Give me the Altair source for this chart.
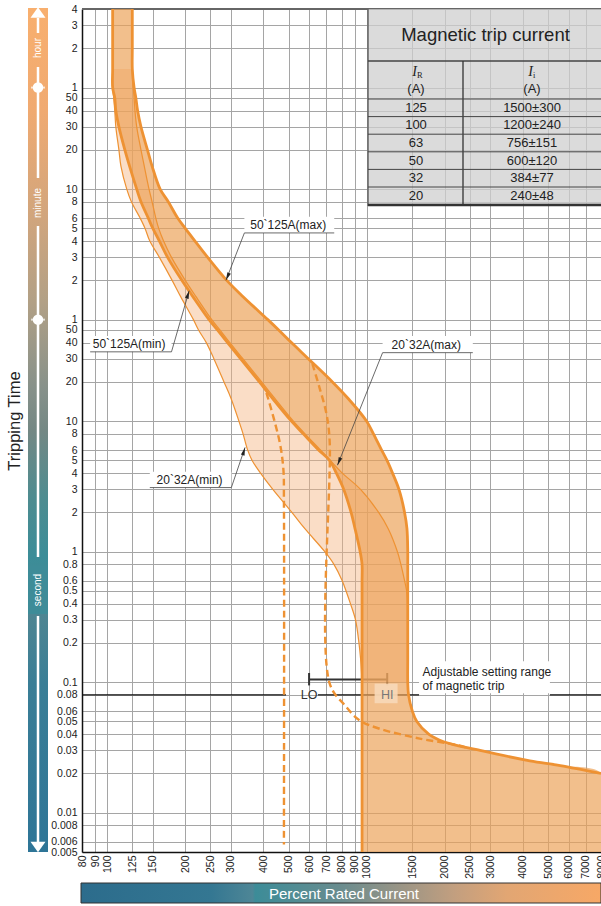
import altair as alt
import pandas as pd

# ---------------- data ----------------
# Trip band for 50~125 A breakers: time levels (s) and band edges (% of rated current)
BAND_50_125_SEC = [14400, 7200, 5000, 3600, 3000, 2400, 1800, 1200, 900, 600,
                   480, 360, 300, 240, 180, 120, 90, 60, 50, 40,
                   30, 20, 15, 10, 8, 6, 5, 4, 3, 2,
                   1.5, 1, 0.8, 0.6, 0.5, 0.4, 0.3, 0.2, 0.15, 0.1,
                   0.08, 0.06, 0.05, 0.04, 0.035, 0.03, 0.025, 0.023, 0.02, 0.01,
                   0.005]
BAND_50_125_MIN = [105, 105, 105, 105, 107, 108, 111, 117, 122, 130,
                   135, 144, 150, 159, 171, 194, 214, 247, 266, 291,
                   327, 386, 433, 513, 570, 654, 720, 764, 816, 871,
                   902, 944, 960, 960, 960, 960, 960, 960, 960, 960,
                   960, 960, 960, 960, 960, 960, 960, 960, 960, 960,
                   960]
BAND_50_125_MAX = [125, 125, 125, 127, 129, 131, 135, 143, 149, 160,
                   172, 187, 200, 218, 244, 289, 334, 416, 458, 513,
                   597, 738, 847, 1000, 1062, 1142, 1198, 1258, 1332, 1400,
                   1430, 1440, 1440, 1440, 1440, 1440, 1440, 1440, 1440, 1440,
                   1450, 1500, 1561, 1734, 1980, 2736, 4256, 5570, 8000, 8000,
                   8000]

# Trip band for 20~32 A breakers
BAND_20_32_SEC = [5000, 3600, 3000, 2400, 1800, 1200, 900, 600, 480, 360,
                  300, 240, 180, 120, 90, 60, 50, 40, 30, 20,
                  15, 10, 8, 6, 5, 4, 3, 2, 1.5, 1,
                  0.8, 0.6, 0.5, 0.4, 0.3, 0.2, 0.15, 0.1]
BAND_20_32_MIN = [105, 105, 106, 107, 108, 111, 113, 119, 124, 134,
                  140, 146, 159, 178, 192, 215, 225, 241, 258, 282,
                  300, 322, 334, 348, 362, 390, 435, 515, 578, 690,
                  748, 805, 833, 866, 906, 934, 948, 960]
BAND_20_32_MAX = [125, 126, 127, 128, 130, 135, 139, 145, 149, 154,
                  158, 165, 177, 200, 220, 253, 272, 297, 334, 394,
                  442, 522, 579, 665, 724, 806, 947, 1112, 1211, 1314,
                  1355, 1400, 1426, 1440, 1440, 1440, 1440, 1440]

# Magnetic trip boundaries for the LO setting (dashed)
LO_DASH_PCT = [411, 441, 465, 478, 480, 480]
LO_DASH_SEC = [16.5, 10.1, 6.5, 4.2, 2.5, 0.0057]
HI_DASH_PCT = [618, 658, 700, 720, 720, 822, 939, 1122, 1601, 2224, 2496]
HI_DASH_SEC = [27.5, 18.1, 11.4, 7.1, 0.098, 0.067, 0.051, 0.044, 0.037, 0.033, 0.031]

X_TICKS = [80, 90, 100, 125, 150, 200, 250, 300, 400, 500, 600, 700, 800, 900,
           1000, 1500, 2000, 2500, 3000, 4000, 5000, 6000, 7000, 8000]
# hours (4..1), minutes (50..1), seconds (50..0.005) -- all in seconds
Y_TICKS = [14400, 10800, 7200, 3600, 3000, 2400, 1800, 1200, 600, 480, 360, 300,
           240, 180, 120, 60, 50, 40, 30, 20, 10, 8, 6, 5, 4, 3, 2, 1, 0.8, 0.6,
           0.5, 0.4, 0.3, 0.2, 0.1, 0.08, 0.06, 0.05, 0.04, 0.03, 0.02, 0.01,
           0.008, 0.006, 0.005]

# Callouts
CALLOUT_TEXT = ["50`125A(max)", "50`125A(min)", "20`32A(max)", "20`32A(min)"]
CALLOUT_UL_X0 = [338, 86, 1152, 146]
CALLOUT_UL_X1 = [750, 177, 2565, 301]
CALLOUT_UL_Y = [277, 34, 33.5, 3.1]
CALLOUT_BOX_TOP = [368, 45, 45, 4.1]
CALLOUT_TEXT_X = [356, 88, 1248, 155]
CALLOUT_LEAD_X = [338, 177, 1152, 301]
CALLOUT_TIP_X = [287, 207, 772, 340]
CALLOUT_TIP_Y = [120, 100, 4.6, 6.3]
CALLOUT_ANGLE = [203, 17, 202, 17]

# Adjustable magnetic setting range (LO .. HI)
SETTING_PCT = [600, 1200]
SETTING_LABEL = ["LO", "HI"]
SETTING_SEC = 0.105
REF_LINE_SEC = 0.08
REF_SEG_X0 = [80, 649, 5084]
REF_SEG_X1 = [489, 1592, 8000]

# Table
TABLE_IR = ["125", "100", "63", "50", "32", "20"]
TABLE_II = ["1500\u00b1300", "1200\u00b1240", "756\u00b1151", "600\u00b1120", "384\u00b177", "240\u00b148"]

# ---------------- style ----------------
FONT = "Liberation Sans"
W, H = 519, 843
LINE = "#EE9233"
LIGHT_FILL = "#F4B480"
DARK_FILL = "#ECA055"
INK = "#222222"
CURVE = "catmull-rom"

X_SCALE = alt.Scale(type="log", domain=[80, 8000], nice=False)
Y_SCALE = alt.Scale(type="log", domain=[0.005, 14400], nice=False)

AXIS_COMMON = dict(title=None, grid=True, ticks=False, gridColor="#A5A5A5", gridWidth=1,
                   domainColor="#111111", domainWidth=1.5, labelFont=FONT,
                   labelFontSize=10.5, labelColor=INK, labelOverlap=False,
                   labelFlush=False, labelBound=False)
X_AXIS = alt.Axis(values=X_TICKS, format="d", labelAngle=270, labelPadding=3, **AXIS_COMMON)
Y_AXIS = alt.Axis(
    values=Y_TICKS, labelPadding=5,
    labelExpr="datum.value >= 3600 ? format(datum.value / 3600, 'd') : "
              "datum.value >= 60 ? format(datum.value / 60, 'd') : format(datum.value, '~g')",
    **AXIS_COMMON)


def X(field):
    return alt.X(f"{field}:Q", scale=X_SCALE, axis=X_AXIS, stack=None)


def Y(field):
    return alt.Y(f"{field}:Q", scale=Y_SCALE, axis=Y_AXIS, stack=None)


ONE = pd.DataFrame({"k": [0]})


def deco():
    return alt.Chart(ONE)


def with_index(df):
    df = df.copy()
    df["i"] = range(len(df))
    return df


dark = with_index(pd.DataFrame({"sec": BAND_50_125_SEC, "lo": BAND_50_125_MIN, "hi": BAND_50_125_MAX}))
light = with_index(pd.DataFrame({"sec": BAND_20_32_SEC, "lo": BAND_20_32_MIN, "hi": BAND_20_32_MAX}))
lo_dash = with_index(pd.DataFrame({"pct": LO_DASH_PCT, "sec": LO_DASH_SEC}))
hi_dash = with_index(pd.DataFrame({"pct": HI_DASH_PCT, "sec": HI_DASH_SEC}))

layers = []

# frame top
layers.append(deco().mark_rule(color="#666666", strokeWidth=2).encode(
    x=alt.value(0), x2=alt.value(W), y=alt.value(0)))

# reference line at 0.08 s (broken for labels)
ref = pd.DataFrame({"x0": REF_SEG_X0, "x1": REF_SEG_X1, "sec": [REF_LINE_SEC] * len(REF_SEG_X0)})
layers.append(alt.Chart(ref).mark_rule(color="#111111", strokeWidth=1.2).encode(
    x=X("x0"), x2=alt.X2("x1"), y=Y("sec")))

# LO..HI setting bar
setting = pd.DataFrame({"pct": SETTING_PCT, "label": SETTING_LABEL, "sec": [SETTING_SEC] * 2,
                        "c0": [SETTING_SEC * 0.9] * 2, "c1": [SETTING_SEC * 1.12] * 2,
                        "lsec": [REF_LINE_SEC] * 2})
layers.append(alt.Chart(pd.DataFrame({"a": [SETTING_PCT[0]], "b": [SETTING_PCT[1]], "sec": [SETTING_SEC]}))
              .mark_rule(color="#333333", strokeWidth=2).encode(x=X("a"), x2=alt.X2("b"), y=Y("sec")))
layers.append(alt.Chart(setting).mark_rule(color="#333333", strokeWidth=2).encode(
    x=X("pct"), y=Y("c0"), y2=alt.Y2("c1")))

# trip bands
layers.append(alt.Chart(light).mark_area(orient="horizontal", color=LIGHT_FILL, opacity=0.45,
                                         interpolate=CURVE).encode(
    y=Y("sec"), x=X("lo"), x2=alt.X2("hi")))
layers.append(alt.Chart(dark).mark_area(orient="horizontal", color=DARK_FILL, opacity=0.68,
                                        interpolate=CURVE).encode(
    y=Y("sec"), x=X("lo"), x2=alt.X2("hi")))

# band edges
layers.append(alt.Chart(light).mark_line(color=LINE, strokeWidth=1.2, interpolate=CURVE).encode(
    x=X("lo"), y=Y("sec"), order="i:Q"))
layers.append(alt.Chart(light[light["sec"] >= 0.4]).mark_line(color=LINE, strokeWidth=1.2,
                                                              interpolate=CURVE).encode(
    x=X("hi"), y=Y("sec"), order="i:Q"))
layers.append(alt.Chart(dark).mark_line(color=LINE, strokeWidth=2.8, strokeJoin="round",
                                        interpolate=CURVE).encode(
    x=X("lo"), y=Y("sec"), order="i:Q"))
layers.append(alt.Chart(dark[dark["sec"] >= 0.02]).mark_line(color=LINE, strokeWidth=2.8, strokeJoin="round",
                                                            interpolate=CURVE).encode(
    x=X("hi"), y=Y("sec"), order="i:Q"))

# LO-setting boundaries
for d in (lo_dash, hi_dash):
    layers.append(alt.Chart(d).mark_line(color=LINE, strokeWidth=2.4, strokeDash=[7, 4],
                                         interpolate=CURVE).encode(
        x=X("pct"), y=Y("sec"), order="i:Q"))

# HI label plate and setting labels
layers.append(deco().mark_rect(color="#F7D8B8", opacity=0.9).encode(
    x=alt.datum(1073, scale=X_SCALE), x2=alt.datum(1316), y=alt.datum(0.069, scale=Y_SCALE), y2=alt.datum(0.0975)))
layers.append(alt.Chart(setting).mark_text(font=FONT, fontSize=12.5, baseline="middle").encode(
    x=X("pct"), y=Y("lsec"), text="label:N",
    color=alt.Color("label:N", scale=alt.Scale(domain=SETTING_LABEL, range=["#333333", "#777777"]), legend=None)))

# text box for the setting range note
layers.append(deco().mark_rect(color="white").encode(
    x=alt.datum(1592, scale=X_SCALE), x2=alt.datum(5084), y=alt.datum(0.0823, scale=Y_SCALE), y2=alt.datum(0.145)))
note = pd.DataFrame({"pct": [1641, 1641], "sec": [0.119, 0.093],
                     "t": ["Adjustable setting range", "of magnetic trip"]})
layers.append(alt.Chart(note).mark_text(font=FONT, fontSize=12, align="left", baseline="middle", color=INK).encode(
    x=X("pct"), y=Y("sec"), text="t:N"))

# callouts
call = pd.DataFrame({"label": CALLOUT_TEXT, "x0": CALLOUT_UL_X0, "x1": CALLOUT_UL_X1, "y": CALLOUT_UL_Y,
                     "ytop": CALLOUT_BOX_TOP, "tx": CALLOUT_TEXT_X, "fx": CALLOUT_LEAD_X,
                     "tipx": CALLOUT_TIP_X, "tipy": CALLOUT_TIP_Y, "ang": CALLOUT_ANGLE})
layers.append(alt.Chart(call).mark_rect(color="white").encode(
    x=X("x0"), x2=alt.X2("x1"), y=Y("y"), y2=alt.Y2("ytop")))
layers.append(alt.Chart(call).mark_rule(color="#444444", strokeWidth=0.8).encode(
    x=X("x0"), x2=alt.X2("x1"), y=Y("y")))
layers.append(alt.Chart(call).mark_rule(color="#444444", strokeWidth=0.8).encode(
    x=X("fx"), y=Y("y"), x2=alt.X2("tipx"), y2=alt.Y2("tipy")))
layers.append(alt.Chart(call).mark_point(shape="M0,0L-0.4,1.7L0.4,1.7Z", filled=True, size=90,
                                         opacity=1, color="#222222").encode(
    x=X("tipx"), y=Y("tipy"), angle=alt.Angle("ang:Q", scale=None)))
layers.append(alt.Chart(call).mark_text(font=FONT, fontSize=12, align="left", baseline="bottom",
                                        dy=-1, color=INK).encode(
    x=X("tx"), y=Y("y"), text="label:N"))

# ---------------- table ----------------
T_L, T_R, T_T, T_B = 286, 519, 0, 197
T_DIV, T_HEAD, ROW_TOP, ROW_H = 381, 52, 90, 17.6
C1, C2 = 334, 450

layers.append(deco().mark_rect(color="#CFCFCF", opacity=0.75).encode(
    x=alt.value(T_L), x2=alt.value(T_R), y=alt.value(T_T), y2=alt.value(T_B)))
layers.append(deco().mark_rule(color="#666666", strokeWidth=1.5).encode(
    x=alt.value(T_L), y=alt.value(T_T), y2=alt.value(T_B)))
layers.append(deco().mark_rule(color="#444444", strokeWidth=1.5).encode(
    x=alt.value(T_L), x2=alt.value(T_R), y=alt.value(T_HEAD)))
layers.append(deco().mark_rule(color="#333333", strokeWidth=1.3).encode(
    x=alt.value(T_DIV), y=alt.value(T_HEAD), y2=alt.value(T_B)))
for r in range(len(TABLE_IR)):
    layers.append(deco().mark_rule(color="#444444", strokeWidth=1).encode(
        x=alt.value(T_L), x2=alt.value(T_R), y=alt.value(ROW_TOP + r * ROW_H)))
layers.append(deco().mark_rule(color="#333333", strokeWidth=2.5).encode(
    x=alt.value(T_L), x2=alt.value(T_R), y=alt.value(T_B - 1)))
layers.append(deco().mark_text(font=FONT, fontSize=18.5, color=INK).encode(
    x=alt.value((T_L + T_R) / 2 + 1), y=alt.value(26), text=alt.value("Magnetic trip current")))
for cx, sub in ((C1, "R"), (C2, "i")):
    layers.append(deco().mark_text(font="Liberation Serif", fontStyle="italic", fontSize=14,
                                   align="right", color=INK).encode(
        x=alt.value(cx + 1), y=alt.value(63), text=alt.value("I")))
    layers.append(deco().mark_text(font="Liberation Serif", fontSize=8.5, align="left", color=INK).encode(
        x=alt.value(cx + 1), y=alt.value(66), text=alt.value(sub)))
    layers.append(deco().mark_text(font=FONT, fontSize=13, color=INK).encode(
        x=alt.value(cx), y=alt.value(80), text=alt.value("(A)")))
for r, (ir, ii) in enumerate(zip(TABLE_IR, TABLE_II)):
    yc = ROW_TOP + (r + 0.5) * ROW_H
    layers.append(deco().mark_text(font=FONT, fontSize=13, color=INK).encode(
        x=alt.value(C1), y=alt.value(yc), text=alt.value(ir)))
    layers.append(deco().mark_text(font=FONT, fontSize=13, color=INK).encode(
        x=alt.value(C2), y=alt.value(yc), text=alt.value(ii)))

# ---------------- time scale strip (left) ----------------
strip_grad = alt.LinearGradient(
    gradient="linear", x1=0, y1=0, x2=0, y2=1,
    stops=[alt.GradientStop(color="#F8AF6E", offset=0),
           alt.GradientStop(color="#F0AA71", offset=0.12),
           alt.GradientStop(color="#D0A57D", offset=0.25),
           alt.GradientStop(color="#B1A086", offset=0.35),
           alt.GradientStop(color="#87918A", offset=0.45),
           alt.GradientStop(color="#748884", offset=0.5),
           alt.GradientStop(color="#4E8C90", offset=0.58),
           alt.GradientStop(color="#3B8D98", offset=0.65),
           alt.GradientStop(color="#4E8592", offset=0.72),
           alt.GradientStop(color="#3A7E96", offset=0.8),
           alt.GradientStop(color="#2E7597", offset=1)])
SX0, SX1, SXC = -54, -34, -44
layers.append(deco().mark_rect(fill=strip_grad).encode(
    x=alt.value(SX0), x2=alt.value(SX1), y=alt.value(-1), y2=alt.value(H)))
layers.append(deco().mark_rect(color="#3E8C98").encode(
    x=alt.value(SX0), x2=alt.value(SX1), y=alt.value(557), y2=alt.value(605)))
for y0, y1 in ((9, 24), (58, 169), (217, 548), (607, 834)):
    layers.append(deco().mark_rule(color="white", strokeWidth=2.5).encode(
        x=alt.value(SXC), y=alt.value(y0), y2=alt.value(y1)))
marks_df = pd.DataFrame({"sec": [3600, 60]})
layers.append(alt.Chart(marks_df).mark_point(shape="circle", filled=True, size=110, opacity=1, color="white").encode(
    x=alt.value(SXC), y=Y("sec")))
layers.append(alt.Chart(marks_df).mark_tick(color="white", thickness=2, size=14, orient="horizontal").encode(
    x=alt.value(SXC), y=Y("sec")))
layers.append(deco().mark_point(shape="M-1,0.7L1,0.7L0,-0.7Z", filled=True, size=225, opacity=1,
                                color="white").encode(x=alt.value(SXC), y=alt.value(3.5)))
layers.append(deco().mark_point(shape="M-1,-0.7L1,-0.7L0,0.7Z", filled=True, size=225, opacity=1,
                                color="white").encode(x=alt.value(SXC), y=alt.value(838)))
for txt, yc in (("hour", 39), ("minute", 194), ("second", 581)):
    layers.append(deco().mark_text(font=FONT, fontSize=10, angle=270, color="white", baseline="middle").encode(
        x=alt.value(SXC), y=alt.value(yc), text=alt.value(txt)))
layers.append(deco().mark_text(font=FONT, fontSize=16.5, angle=270, color=INK, baseline="middle").encode(
    x=alt.value(-67), y=alt.value(412), text=alt.value("Tripping Time")))

# ---------------- current strip (bottom) ----------------
cur_grad = alt.LinearGradient(
    gradient="linear", x1=0, y1=0, x2=1, y2=0,
    stops=[alt.GradientStop(color="#2C6C8C", offset=0),
           alt.GradientStop(color="#347792", offset=0.25),
           alt.GradientStop(color="#4E8696", offset=0.33),
           alt.GradientStop(color="#3C8C98", offset=0.335),
           alt.GradientStop(color="#6A8C8E", offset=0.5),
           alt.GradientStop(color="#9C9585", offset=0.62),
           alt.GradientStop(color="#C39F7F", offset=0.72),
           alt.GradientStop(color="#E2A673", offset=0.82),
           alt.GradientStop(color="#F7A866", offset=1)])
layers.append(deco().mark_rect(fill=cur_grad, stroke="#333333", strokeWidth=1).encode(
    x=alt.value(-1), x2=alt.value(W), y=alt.value(874), y2=alt.value(894)))
layers.append(deco().mark_text(font=FONT, fontSize=15, color="white", baseline="middle").encode(
    x=alt.value(262), y=alt.value(885), text=alt.value("Percent Rated Current")))

chart = alt.layer(*layers).properties(
    width=W, height=H,
    padding={"left": 82, "top": 9, "right": 0, "bottom": 54},
    autosize=alt.AutoSizeParams(type="none"),
    background="white",
).configure_view(stroke=None)

chart.save("out.html", embed_options={"renderer": "svg", "actions": False})
